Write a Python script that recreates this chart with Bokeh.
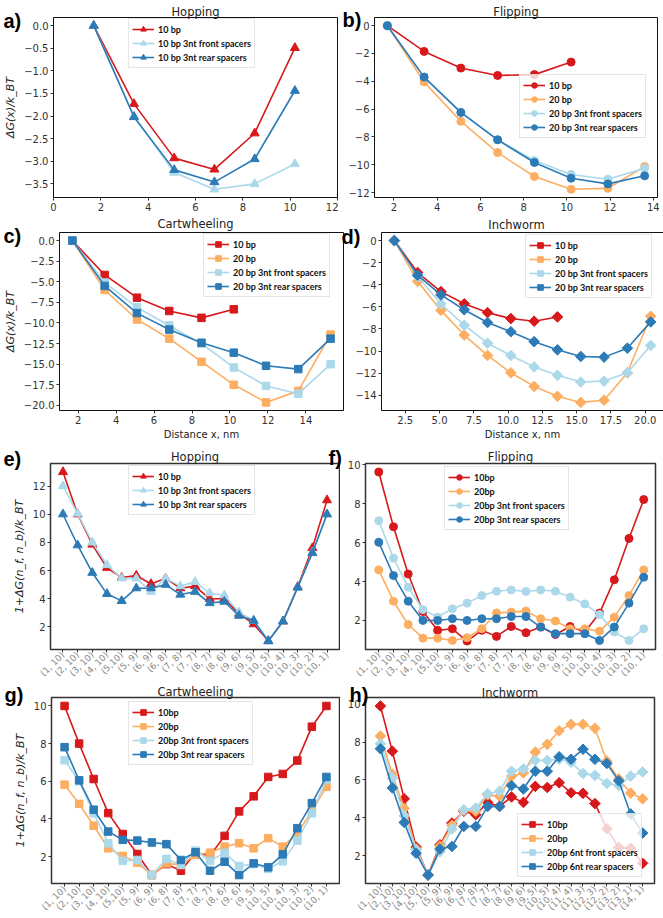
import math
from bokeh.plotting import figure
from bokeh.layouts import column, row
from bokeh.models import Range1d, FixedTicker, Legend, LegendItem, GridBox
from bokeh.core.properties import value
from bokeh.embed import file_html
from bokeh.resources import INLINE

RED = "#d7191c"; ORANGE = "#fdae61"; LBLUE = "#abd9e9"; DBLUE = "#2c7bb6"

# ---------------- data ----------------
x_hop = [1.7, 3.4, 5.1, 6.8, 8.5, 10.2]
hop_10bp = [0.0, -1.73, -2.93, -3.18, -2.38, -0.49]
hop_front = [0.0, -2.0, -3.25, -3.62, -3.5, -3.06]
hop_rear = [0.0, -2.02, -3.19, -3.46, -2.95, -1.44]

x_flip = [1.7, 3.4, 5.1, 6.8, 8.5, 10.2, 11.9, 13.6]
flip_10bp = [0.0, -1.85, -3.05, -3.58, -3.52, -2.62]
flip_20bp = [0.0, -4.05, -6.88, -9.13, -10.85, -11.77, -11.7, -10.13]
flip_front = [0.0, -3.7, -6.25, -8.2, -9.7, -10.7, -11.04, -10.25]
flip_rear = [0.0, -3.7, -6.24, -8.21, -9.84, -10.97, -11.38, -10.8]

x_cart = [1.7, 3.4, 5.1, 6.8, 8.5, 10.2, 11.9, 13.6, 15.3]
cart_10bp = [0.0, -4.17, -6.93, -8.54, -9.38, -8.34]
cart_20bp = [0.0, -6.0, -9.58, -11.9, -14.7, -17.5, -19.64, -18.24, -11.4]
cart_front = [0.0, -5.1, -8.1, -10.3, -12.5, -15.4, -17.64, -18.6, -15.0]
cart_rear = [0.0, -5.5, -8.8, -10.8, -12.4, -13.6, -15.2, -15.6, -11.9]

x_inch = [1.7, 3.4, 5.1, 6.8, 8.5, 10.2, 11.9, 13.6, 15.3, 17.0, 18.7, 20.4]
inch_10bp = [0.0, -2.89, -4.62, -5.72, -6.52, -7.06, -7.3, -6.91]
inch_20bp = [0.0, -3.69, -6.32, -8.55, -10.4, -11.97, -13.2, -14.1, -14.65, -14.45, -11.97, -6.85]
inch_front = [0.0, -3.25, -5.72, -7.66, -9.29, -10.4, -11.44, -12.2, -12.8, -12.72, -11.97, -9.5]
inch_rear = [0.0, -3.13, -4.92, -6.26, -7.42, -8.25, -9.15, -9.89, -10.49, -10.55, -9.74, -7.36]

states19 = ["(1, 10)", "(2, 10)", "(3, 10)", "(4, 10)", "(5,10)", "(5, 9)", "(6, 9)",
            "(6, 8)", "(7, 8)", "(7, 7)", "(8, 7)", "(8, 6)", "(9, 6)", "(9, 5)",
            "(10, 5)", "(10, 4)", "(10, 3)", "(10, 2)", "(10, 1)"]
states23 = ["(1, 10)", "(2, 10)", "(3, 10)", "(4, 10)", "(5, 10)", "(5, 9)", "(6, 9)",
            "(6, 8)", "(7, 8)", "(7, 7)", "(8, 7)", "(8, 6)", "(9, 6)", "(9, 5)",
            "(10, 5)", "(10, 4)", "(11, 4)", "(11, 3)", "(12, 3)", "(12, 2)", "(13, 2)",
            "(13, 1)", "(14, 1)"]

e_10bp = [13.0, 10.0, 7.85, 6.2, 5.5, 5.65, 5.05, 5.45, 4.75, 4.9, 4.0, 4.0, 2.95, 2.2, 1.0, 2.4, 4.85, 7.6, 11.0]
e_front = [12.0, 10.05, 8.0, 6.4, 5.45, 5.45, 4.5, 5.45, 4.9, 5.2, 4.4, 4.25, 3.05, 2.45, 1.0, 2.4, 4.8, 7.3, 10.0]
e_rear = [10.0, 7.8, 5.85, 4.35, 3.85, 4.75, 4.75, 5.0, 4.3, 4.5, 3.7, 3.8, 2.8, 2.45, 1.0, 2.4, 4.8, 7.25, 10.0]

f_10bp = [9.64, 6.82, 4.39, 2.46, 1.49, 1.57, 0.94, 1.49, 1.18, 1.69, 1.37, 1.66, 1.28, 1.69, 1.4, 2.38, 4.09, 6.22, 8.22]
f_20bp = [4.6, 2.99, 1.79, 1.09, 1.09, 0.97, 1.11, 1.57, 2.38, 2.43, 2.48, 2.09, 1.97, 1.57, 1.57, 1.45, 2.17, 3.28, 4.6]
f_front = [7.13, 5.2, 3.71, 2.56, 2.17, 2.6, 2.89, 3.28, 3.5, 3.57, 3.49, 3.57, 3.5, 3.2, 2.85, 2.3, 1.4, 0.97, 1.57]
f_rear = [6.02, 4.31, 2.99, 2.0, 2.0, 2.09, 2.0, 2.09, 2.09, 2.2, 2.2, 1.66, 1.32, 1.32, 1.32, 0.97, 1.66, 2.89, 4.22]

g_10bp = [10.0, 8.0, 6.12, 4.31, 3.2, 2.14, 1.02, 1.6, 1.25, 2.21, 2.04, 3.1, 4.4, 5.2, 6.23, 6.39, 7.1, 8.9, 10.0]
g_20bp = [5.82, 4.8, 3.64, 2.44, 2.04, 1.68, 1.02, 1.64, 1.56, 2.09, 2.21, 2.53, 2.71, 2.44, 2.98, 2.53, 3.24, 4.4, 5.7]
g_front = [7.12, 6.0, 4.3, 2.71, 1.77, 1.82, 1.02, 1.88, 1.56, 2.32, 1.77, 2.2, 1.5, 1.6, 1.35, 1.75, 2.85, 4.3, 6.1]
g_rear = [7.81, 6.05, 4.49, 3.33, 2.89, 2.85, 2.75, 2.66, 1.82, 2.23, 1.25, 1.73, 1.02, 1.64, 1.43, 2.12, 3.51, 4.84, 6.23]

h_10bp = [9.91, 7.52, 5.0, 2.45, 0.97, 2.57, 3.72, 4.34, 4.16, 4.81, 4.6, 5.1, 4.81, 5.66, 5.6, 5.85, 5.32, 5.29, 4.75, 3.42, 2.43, 2.39, 1.59]
h_20bp = [8.32, 6.3, 4.5, 2.35, 0.97, 2.5, 3.6, 4.39, 4.34, 5.22, 5.13, 6.19, 6.37, 7.47, 7.88, 8.6, 8.94, 8.94, 8.73, 7.0, 6.05, 5.3, 5.0]
h_front = [7.91, 6.1, 4.1, 2.3, 0.97, 2.2, 3.4, 4.42, 4.51, 5.27, 5.4, 6.46, 6.58, 7.03, 7.03, 7.09, 6.93, 6.34, 6.24, 5.81, 5.7, 6.2, 6.42]
h_rear = [7.65, 5.58, 3.75, 2.12, 0.97, 2.35, 2.48, 3.54, 3.54, 4.6, 4.6, 5.7, 5.52, 6.46, 6.46, 7.22, 7.09, 7.62, 7.09, 6.87, 5.95, 4.2, 3.19]

x_ticks_a = [0, 2, 4, 6, 8, 10, 12]
y_ticks_a = [0.0, -0.5, -1.0, -1.5, -2.0, -2.5, -3.0, -3.5]
x_ticks_b = [2, 4, 6, 8, 10, 12, 14]
y_ticks_b = [0, -2, -4, -6, -8, -10, -12]
x_ticks_c = [2, 4, 6, 8, 10, 12, 14, 16]
y_ticks_c = [0.0, -2.5, -5.0, -7.5, -10.0, -12.5, -15.0, -17.5, -20.0]
x_ticks_d = [2.5, 5.0, 7.5, 10.0, 12.5, 15.0, 17.5, 20.0]
y_ticks_d = [0, -2, -4, -6, -8, -10, -12, -14]
y_ticks_e = [2, 4, 6, 8, 10, 12]
y_ticks_fgh = [2, 4, 6, 8, 10]

panel_titles = ["Hopping", "Flipping", "Cartwheeling", "Inchworm",
                "Hopping", "Flipping", "Cartwheeling", "Inchworm"]
panel_letters = ["a)", "b)", "c)", "d)", "e)", "f)", "g)", "h)"]

LBL_DIST = "ΔG(x)/k_BT"
LBL_STATE = "1+ΔG(n_f, n_b)/k_BT"

PAGE_W, PAGE_H = 663, 918


def fmt(v, dec):
    s = f"{v:.{dec}f}"
    if s.startswith("-"):
        s = "\u2212" + s[1:]
    return s


def padded(vals, frac=0.05):
    lo, hi = min(vals), max(vals)
    m = (hi - lo) * frac
    return lo - m, hi + m


def panel(geom, xr, yr, xticks, xlabels, yticks, ylabels, series, marker, legend_xy,
          ylabel=None, xlabel=None, rotated=False, heavy=False, msize=8):
    fw, fh, bl, br, bt, bb = geom
    p = figure(frame_width=fw, frame_height=fh, min_border_left=bl, min_border_right=br,
               min_border_top=bt, min_border_bottom=bb, x_range=Range1d(*xr),
               y_range=Range1d(*yr), toolbar_location=None, output_backend="svg",
               background_fill_color="white", border_fill_color="white")
    p.xgrid.visible = False
    p.ygrid.visible = False
    p.outline_line_color = "#333333" if heavy else "#111111"
    p.outline_line_width = 1.5 if heavy else 1.0
    for ax in (p.xaxis[0], p.yaxis[0]):
        ax.axis_line_color = None
        ax.major_tick_in = 0
        ax.major_tick_out = 3
        ax.major_tick_line_color = "#333333"
        ax.minor_tick_line_color = None
        ax.major_label_text_font = "DejaVu Sans"
        ax.major_label_text_font_size = "10px"
        ax.major_label_text_color = "#333333"
        ax.major_label_standoff = 2
    p.xaxis[0].ticker = FixedTicker(ticks=xticks, minor_ticks=[])
    p.xaxis[0].major_label_overrides = dict(zip(xticks, xlabels))
    p.yaxis[0].ticker = FixedTicker(ticks=yticks, minor_ticks=[])
    p.yaxis[0].major_label_overrides = dict(zip(yticks, ylabels))
    if rotated:
        p.xaxis[0].major_label_orientation = math.pi / 4
        p.xaxis[0].major_label_text_font_size = "9px"
        p.xaxis[0].major_label_text_color = "#8a8a8a"
        p.xaxis[0].major_label_standoff = 1
    if ylabel:
        p.yaxis[0].axis_label = ylabel
        p.yaxis[0].axis_label_text_font = "DejaVu Sans"
        p.yaxis[0].axis_label_text_font_style = "italic"
        p.yaxis[0].axis_label_text_font_size = "11px"
        p.yaxis[0].axis_label_text_color = "#222222"
        p.yaxis[0].axis_label_standoff = 4
    if xlabel:
        p.xaxis[0].axis_label = xlabel
        p.xaxis[0].axis_label_text_font = "DejaVu Sans"
        p.xaxis[0].axis_label_text_font_style = "normal"
        p.xaxis[0].axis_label_text_font_size = "10px"
        p.xaxis[0].axis_label_text_color = "#222222"
        p.xaxis[0].axis_label_standoff = 2

    items = []
    for lab, xs, ys, col in series:
        xs = xs[:len(ys)]
        lr = p.line(xs, ys, line_color=col, line_width=1.6)
        if marker == "diamond":
            sr = p.scatter(xs, ys, marker="square", angle=math.pi / 4, size=msize,
                           fill_color=col, line_color=col)
        else:
            sr = p.scatter(xs, ys, marker=marker, size=msize, fill_color=col, line_color=col)
        items.append(LegendItem(label=lab, renderers=[lr, sr]))
    leg = Legend(items=items, location=legend_xy, orientation="vertical")
    leg.label_text_font = "Lato"
    leg.label_text_font_style = "bold"
    leg.label_text_font_size = "9px"
    leg.label_text_color = "#111111"
    leg.label_height = 14
    leg.glyph_height = 14
    leg.glyph_width = 22
    leg.label_standoff = 4
    leg.spacing = 0
    leg.padding = 3
    leg.margin = 0
    leg.border_line_color = "#cccccc"
    leg.border_line_width = 1
    leg.background_fill_color = "white"
    leg.background_fill_alpha = 0.8
    p.add_layout(leg)
    return p


def int_labels(t):
    return [fmt(v, 0) for v in t]


def one_labels(t):
    return [fmt(v, 1) for v in t]


# ---------------- row 1 ----------------
pa = panel((284, 180, 53, 1, 17, 18), (0, 12), padded(hop_10bp + hop_front + hop_rear),
           x_ticks_a, int_labels(x_ticks_a), y_ticks_a, one_labels(y_ticks_a),
           [("10 bp", x_hop, hop_10bp, RED), ("10 bp 3nt front spacers", x_hop, hop_front, LBLUE),
            ("10 bp 3nt rear spacers", x_hop, hop_rear, DBLUE)],
           "triangle", (75, 129), ylabel=LBL_DIST, msize=9)

pb = panel((283, 180, 36, 6, 17, 18), padded(x_flip),
           padded(flip_10bp + flip_20bp + flip_front + flip_rear),
           x_ticks_b, int_labels(x_ticks_b), y_ticks_b, int_labels(y_ticks_b),
           [("10 bp", x_flip, flip_10bp, RED), ("20 bp", x_flip, flip_20bp, ORANGE),
            ("20 bp 3nt front spacers", x_flip, flip_front, LBLUE),
            ("20 bp 3nt rear spacers", x_flip, flip_rear, DBLUE)],
           "circle", (145, 59), msize=8)

# ---------------- row 2 ----------------
pc = panel((284, 178, 53, 1, 17, 33), padded(x_cart),
           padded(cart_10bp + cart_20bp + cart_front + cart_rear),
           x_ticks_c, int_labels(x_ticks_c), y_ticks_c, one_labels(y_ticks_c),
           [("10 bp", x_cart, cart_10bp, RED), ("20 bp", x_cart, cart_20bp, ORANGE),
            ("20 bp 3nt front spacers", x_cart, cart_front, LBLUE),
            ("20 bp 3nt rear spacers", x_cart, cart_rear, DBLUE)],
           "square", (144, 113), ylabel=LBL_DIST, xlabel="Distance x, nm", msize=7.5)

pd_ = panel((282, 178, 37, 6, 17, 33), padded(x_inch),
            padded(inch_10bp + inch_20bp + inch_front + inch_rear),
            x_ticks_d, one_labels(x_ticks_d), y_ticks_d, int_labels(y_ticks_d),
            [("10 bp", x_inch, inch_10bp, RED), ("20 bp", x_inch, inch_20bp, ORANGE),
             ("20 bp 3nt front spacers", x_inch, inch_front, LBLUE),
             ("20 bp 3nt rear spacers", x_inch, inch_rear, DBLUE)],
            "diamond", (144, 112), xlabel="Distance x, nm", msize=7.5)

# ---------------- row 3 ----------------
i19 = list(range(len(states19)))
i23 = list(range(len(states23)))

pe = panel((289, 186, 50, 1, 20, 35), (-0.85, 18.85), padded(e_10bp + e_front + e_rear),
           i19, states19, y_ticks_e, int_labels(y_ticks_e),
           [("10 bp", i19, e_10bp, RED), ("10 bp 3nt front spacers", i19, e_front, LBLUE),
            ("10 bp 3nt rear spacers", i19, e_rear, DBLUE)],
           "triangle", (78, 134), ylabel=LBL_STATE, rotated=True, heavy=True, msize=9)

pf = panel((290, 186, 25, 8, 20, 35), (-0.9, 18.8), padded(f_10bp + f_20bp + f_front + f_rear),
           i19, states19, y_ticks_fgh, int_labels(y_ticks_fgh),
           [("10bp", i19, f_10bp, RED), ("20bp", i19, f_20bp, ORANGE),
            ("20bp 3nt front spacers", i19, f_front, LBLUE),
            ("20bp 3nt rear spacers", i19, f_rear, DBLUE)],
           "circle", (79, 119), rotated=True, heavy=True, msize=8)

# ---------------- row 4 ----------------
pg = panel((288, 186, 51, 1, 13, 35), (-0.9, 18.9), padded(g_10bp + g_20bp + g_front + g_rear),
           i19, states19, y_ticks_fgh, int_labels(y_ticks_fgh),
           [("10bp", i19, g_10bp, RED), ("20bp", i19, g_20bp, ORANGE),
            ("20bp 3nt front spacers", i19, g_front, LBLUE),
            ("20bp 3nt rear spacers", i19, g_rear, DBLUE)],
           "square", (77, 118), ylabel=LBL_STATE, rotated=True, heavy=True, msize=7.5)

ph = panel((289, 186, 25, 9, 13, 35), (-1.25, 23.0), padded(h_10bp + h_20bp + h_front + h_rear),
           i23, states23, y_ticks_fgh, int_labels(y_ticks_fgh),
           [("10bp", i23, h_10bp, RED), ("20bp", i23, h_20bp, ORANGE),
            ("20bp 6nt front spacers", i23, h_front, LBLUE),
            ("20bp 6nt rear spacers", i23, h_rear, DBLUE)],
           "diamond", (152, 6), rotated=True, heavy=True, msize=7.5)

panels = column(row(pa, pb), row(pc, pd_), row(pe, pf), row(pg, ph))

# ---------------- transparent overlay with panel titles and letters ----------------
title_x = [195, 515.5, 195, 516, 194.5, 510, 195, 509.5]
title_y = [11.5, 11.5, 223, 224.5, 456, 456, 691.5, 692.5]
letter_x = [3, 342, 3, 341, 3, 328, 4, 349]
letter_y = [20, 19, 235, 236, 458, 457, 694, 694]

ov = figure(width=PAGE_W, height=PAGE_H, x_range=Range1d(0, PAGE_W), y_range=Range1d(PAGE_H, 0),
            min_border_left=0, min_border_right=0, min_border_top=0, min_border_bottom=0,
            toolbar_location=None, output_backend="svg", x_axis_type=None, y_axis_type=None,
            background_fill_color=None, border_fill_color=None, outline_line_color=None)
ov.xgrid.visible = False
ov.ygrid.visible = False
ov.text(x=title_x, y=title_y, text=panel_titles, text_font=value("DejaVu Sans"),
        text_font_size=value("11.5px"), text_align="center", text_baseline="alphabetic",
        text_color="#222222")
ov.text(x=letter_x, y=letter_y, text=panel_letters, text_font=value("Liberation Sans"),
        text_font_style="bold", text_font_size=value("20px"), text_align="left",
        text_baseline="alphabetic", text_color="black")

grid = GridBox(children=[(panels, 0, 0), (ov, 0, 0)])
open("out.html", "w").write(file_html(grid, INLINE))
